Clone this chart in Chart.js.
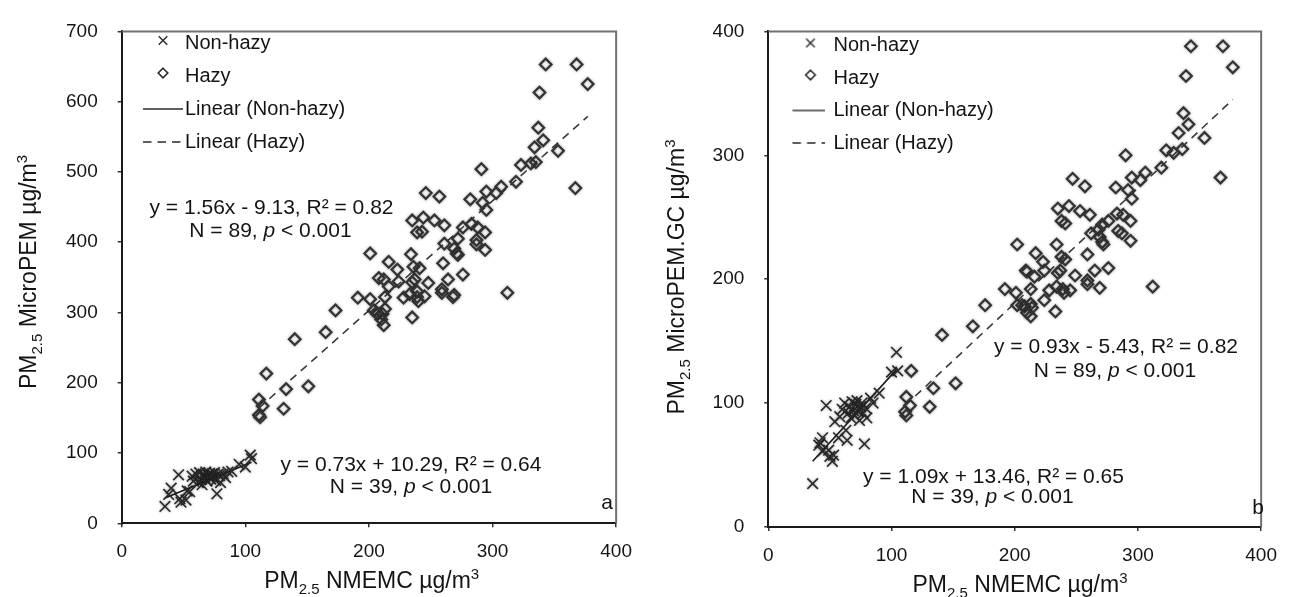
<!DOCTYPE html>
<html>
<head>
<meta charset="utf-8">
<script src="https://cdn.jsdelivr.net/npm/chart.js@4.4.0/dist/chart.umd.min.js"></script>
<style>
html,body{margin:0;padding:0;background:#fff;width:1290px;height:597px;overflow:hidden}
canvas{position:absolute;top:0}
#c1{left:0}
#c2{left:645px}
</style>
</head>
<body>
<canvas id="c1" width="645" height="597"></canvas>
<canvas id="c2" width="645" height="597"></canvas>
<script>
// ---------------- DATA ----------------
const xTickValues = [0, 100, 200, 300, 400];
const yTickValuesA = [0, 100, 200, 300, 400, 500, 600, 700];
const yTickValuesB = [0, 100, 200, 300, 400];

const legendLabels = ['Non-hazy', 'Hazy', 'Linear (Non-hazy)', 'Linear (Hazy)'];

const xTitleSegs = [['PM', ''], ['2.5', 'sub'], [' NMEMC µg/m', ''], ['3', 'sup']];
const yTitleSegsA = [['PM', ''], ['2.5', 'sub'], [' MicroPEM µg/m', ''], ['3', 'sup']];
const yTitleSegsB = [['PM', ''], ['2.5', 'sub'], [' MicroPEM.GC µg/m', ''], ['3', 'sup']];

const annotA = ['y = 1.56x - 9.13, R² = 0.82', 'N = 89, p < 0.001', 'y = 0.73x + 10.29, R² = 0.64', 'N = 39, p < 0.001'];
const annotB = ['y = 0.93x - 5.43, R² = 0.82', 'N = 89, p < 0.001', 'y = 1.09x + 13.46, R² = 0.65', 'N = 39, p < 0.001'];
const panelLetters = ['a', 'b'];

// Panel a: PM2.5 MicroPEM vs NMEMC
const nonHazyA = [[35,24],[38,41],[40,50],[46,69],[47,35],[48,30],[52,33],[53,46],[55,45],[57,67],[58,60],[60,70],[62,58],[63,72],[64,62],[65,55],[66,70],[67,65],[68,73],[69,60],[70,68],[71,71],[72,63],[73,70],[74,66],[75,72],[76,61],[77,42],[78,70],[79,68],[80,58],[82,70],[84,65],[86,73],[89,74],[95,84],[100,80],[104,97],[105,92]];
const hazyA = [[343,653],[368,653],[377,625],[338,613],[337,563],[334,535],[341,545],[353,530],[323,510],[331,512],[335,514],[291,504],[319,486],[367,477],[246,470],[257,465],[282,461],[295,472],[303,470],[307,479],[292,456],[295,446],[235,431],[244,435],[253,431],[261,424],[239,414],[243,415],[283,426],[288,421],[294,414],[287,403],[294,389],[276,421],[272,405],[269,391],[261,398],[271,384],[234,383],[201,384],[216,372],[223,361],[236,365],[241,363],[260,370],[276,354],[264,347],[259,333],[248,342],[208,349],[212,347],[224,344],[237,347],[235,343],[216,337],[191,321],[201,319],[228,321],[233,326],[239,330],[240,316],[245,323],[269,325],[268,322],[204,303],[207,298],[213,305],[211,298],[212,282],[235,293],[312,328],[173,303],[165,272],[140,262],[117,213],[133,191],[151,195],[111,176],[114,167],[131,163],[111,154],[213,322],[259,328],[287,397],[272,382],[210,290],[112,151],[239,322],[206,300]];
const nonHazyFitA = [[35,36],[105,87]];
const hazyFitA = [[111,164],[377,579]];

// Panel b: PM2.5 MicroPEM.GC vs NMEMC
const nonHazyB = [[36,35],[41,66],[42,68],[44,72],[44,61],[47,98],[49,62],[50,57],[52,53],[53,58],[54,85],[57,72],[58,89],[60,95],[62,100],[63,78],[64,70],[65,92],[66,97],[67,88],[68,101],[69,94],[70,90],[71,99],[72,102],[73,93],[74,86],[75,97],[76,100],[77,92],[78,67],[79,96],[80,88],[83,104],[85,100],[90,108],[100,125],[104,141],[105,126]];
const hazyB = [[343,388],[369,388],[377,371],[339,364],[337,334],[341,325],[333,318],[354,314],[323,304],[329,302],[336,305],[290,300],[319,290],[367,282],[247,281],[257,275],[282,274],[295,282],[306,286],[302,280],[292,272],[295,265],[235,257],[244,259],[253,255],[261,252],[238,247],[241,245],[262,237],[271,244],[276,247],[283,253],[288,252],[294,247],[284,239],[287,237],[271,230],[269,234],[272,228],[294,231],[202,228],[234,228],[217,221],[223,214],[238,218],[241,216],[259,220],[209,207],[216,202],[224,207],[237,207],[249,203],[259,199],[265,207],[276,209],[213,192],[192,192],[201,189],[228,191],[234,194],[239,192],[245,191],[259,196],[269,193],[312,194],[202,179],[208,178],[210,173],[213,170],[233,174],[176,179],[206,179],[213,180],[214,177],[166,162],[141,155],[116,126],[134,112],[152,116],[112,105],[115,98],[111,93],[112,90],[131,97],[210,206],[235,205],[240,189],[268,240],[224,183]];
const nonHazyFitB = [[36,53],[105,128]];
const hazyFitB = [[111,98],[377,345]];

// ---------------- HELPERS ----------------
const FONT = '"Liberation Sans", Arial, Helvetica, sans-serif';
const INK = '#141414';
const pts = arr => arr.map(([x, y]) => ({x, y}));

function fontFor(kind, size) {
  if (kind === 'sub' || kind === 'sup') return Math.round(size * 0.65) + 'px ' + FONT;
  if (kind === 'it') return 'italic ' + size + 'px ' + FONT;
  return size + 'px ' + FONT;
}
function drawRich(ctx, segs, x, y, size) {
  const parts = segs.map(([t, k]) => { ctx.font = fontFor(k, size); return {t, k, w: ctx.measureText(t).width}; });
  const total = parts.reduce((s, p) => s + p.w, 0);
  let cx = x - total / 2;
  parts.forEach(p => {
    ctx.font = fontFor(p.k, size);
    const dy = p.k === 'sub' ? size * 0.28 : p.k === 'sup' ? -size * 0.4 : 0;
    ctx.fillText(p.t, cx, y + dy);
    cx += p.w;
  });
}
function annotSegs(text) {
  const i = text.indexOf(', p ');
  if (i < 0) return [[text, '']];
  return [[text.slice(0, i + 2), ''], ['p', 'it'], [text.slice(i + 3), '']];
}

function makeSymbol(kind, w, lineFrom, lineTo, markX) {
  const c = document.createElement('canvas');
  c.width = w; c.height = 18;
  const g = c.getContext('2d');
  g.strokeStyle = '#2a2a2a'; g.lineWidth = 1.4;
  const cy = 9;
  if (kind === 'cross') {
    const r = 4.3, my = cy - 2.5;
    g.beginPath(); g.moveTo(markX - r, my - r); g.lineTo(markX + r, my + r);
    g.moveTo(markX + r, my - r); g.lineTo(markX - r, my + r); g.stroke();
  } else if (kind === 'diamond') {
    const r = 4.8, my = cy - 3;
    g.lineWidth = 1.6;
    g.beginPath(); g.moveTo(markX, my - r); g.lineTo(markX + r, my); g.lineTo(markX, my + r); g.lineTo(markX - r, my); g.closePath(); g.stroke();
  } else {
    if (kind === 'dash') g.setLineDash([8.5, 6]);
    g.beginPath(); g.moveTo(lineFrom, cy); g.lineTo(lineTo, cy); g.stroke();
  }
  return c;
}

const legendPosPlugin = {
  id: 'legendPos',
  afterLayout(chart, args, opts) {
    const L = chart.legend;
    if (!L) return;
    const h = L.height, w = L.width;
    L.left = opts.left; L.top = opts.top; L.right = opts.left + w; L.bottom = opts.top + Math.max(h, 300);
  }
};

const shadowPlugin = {
  id: 'softShadow',
  beforeDatasetDraw(chart, args) {
    if (args.index < 2) { const c = chart.ctx; c.save(); c.shadowColor = 'rgba(0,0,0,0.4)'; c.shadowBlur = 3; }
  },
  afterDatasetDraw(chart, args) {
    if (args.index < 2) chart.ctx.restore();
  }
};

const decorPlugin = {
  id: 'decor',
  afterDraw(chart, args, o) {
    const ctx = chart.ctx, a = chart.chartArea;
    ctx.save();
    ctx.strokeStyle = '#707070'; ctx.lineWidth = 2;
    ctx.beginPath(); ctx.moveTo(a.left, a.top); ctx.lineTo(a.right, a.top); ctx.lineTo(a.right, a.bottom); ctx.stroke();
    ctx.fillStyle = INK;
    ctx.textAlign = 'left'; ctx.textBaseline = 'alphabetic';
    drawRich(ctx, o.xTitle, o.xTitleX, o.xTitleY, 23);
    ctx.save(); ctx.translate(o.yTitleX, o.yTitleY); ctx.rotate(-Math.PI / 2);
    drawRich(ctx, o.yTitle, 0, 0, 23);
    ctx.restore();
    ctx.textBaseline = 'middle';
    o.annot.forEach((t, i) => { const p = o.annotPos[i]; drawRich(ctx, annotSegs(t), p[0], p[1], 21); });
    drawRich(ctx, [[o.letter, '']], o.letterPos[0], o.letterPos[1], 21);
    ctx.restore();
  }
};

function makeChart(id, cfg) {
  const syms = [
    makeSymbol('cross', cfg.symW, cfg.lineFrom, cfg.lineTo, cfg.markX),
    makeSymbol('diamond', cfg.symW, cfg.lineFrom, cfg.lineTo, cfg.markX),
    makeSymbol('solid', cfg.symW, cfg.lineFrom, cfg.lineTo, cfg.markX),
    makeSymbol('dash', cfg.symW, cfg.lineFrom, cfg.lineTo, cfg.markX)
  ];
  const tickFont = {family: FONT, size: 19};
  return new Chart(document.getElementById(id), {
    type: 'scatter',
    data: {
      datasets: [
        {label: legendLabels[0], data: pts(cfg.nonHazy), pointStyle: 'crossRot', pointRadius: 7.5, pointHoverRadius: 7.5,
          pointBorderWidth: 1.6, pointBorderColor: '#2a2a2a', pointBackgroundColor: 'rgba(0,0,0,0)', borderColor: '#2a2a2a', showLine: false},
        {label: legendLabels[1], data: pts(cfg.hazy), pointStyle: 'rectRot', pointRadius: 5.8, pointHoverRadius: 5.8,
          pointBorderWidth: 2.2, pointBorderColor: '#333', pointBackgroundColor: 'rgba(0,0,0,0)', borderColor: '#333', showLine: false},
        {label: legendLabels[2], data: pts(cfg.nonHazyFit), showLine: true, pointRadius: 0, borderColor: '#1a1a1a', borderWidth: 1.6, fill: false},
        {label: legendLabels[3], data: pts(cfg.hazyFit), showLine: true, pointRadius: 0, borderColor: '#3a3a3a', borderWidth: 1.6, borderDash: [8, 6], fill: false}
      ]
    },
    options: {
      responsive: false, animation: false, events: [],
      layout: {padding: {left: 0, top: cfg.padTop, right: cfg.padRight, bottom: 0}},
      scales: {
        x: {
          type: 'linear', min: 0, max: 400,
          afterFit: s => { s.height = cfg.xH; },
          afterBuildTicks: s => { s.ticks = xTickValues.map(v => ({value: v})); },
          ticks: {font: tickFont, color: INK, padding: 13, maxRotation: 0, autoSkip: false},
          grid: {drawOnChartArea: false, tickLength: 4, color: '#333', lineWidth: 1.5},
          border: {color: '#1a1a1a', width: 2}
        },
        y: {
          type: 'linear', min: 0, max: cfg.yMax,
          afterFit: s => { s.width = cfg.yW; },
          afterBuildTicks: s => { s.ticks = cfg.yTicks.map(v => ({value: v})); },
          ticks: {font: tickFont, color: INK, padding: 20, autoSkip: false},
          grid: {drawOnChartArea: false, tickLength: 4, color: '#333', lineWidth: 1.5},
          border: {color: '#1a1a1a', width: 2}
        }
      },
      plugins: {
        tooltip: {enabled: false},
        legend: {
          display: true, position: 'chartArea', align: 'start', fullSize: false,
          labels: {
            usePointStyle: true, pointStyleWidth: 40, padding: cfg.legPad, color: INK,
            font: {family: FONT, size: 20},
            generateLabels: chart => chart.data.datasets.map((ds, i) => ({
              text: ds.label, pointStyle: syms[i], fillStyle: 'rgba(0,0,0,0)', strokeStyle: 'rgba(0,0,0,0)',
              lineWidth: 0, hidden: false, datasetIndex: i, fontColor: INK
            }))
          }
        },
        legendPos: {left: cfg.legLeft, top: cfg.legTop},
        decor: cfg.decor
      }
    },
    plugins: [legendPosPlugin, shadowPlugin, decorPlugin]
  });
}

makeChart('c1', {
  nonHazy: nonHazyA, hazy: hazyA, nonHazyFit: nonHazyFitA, hazyFit: hazyFitA,
  yMax: 700, yTicks: yTickValuesA,
  padTop: 22, padRight: 23.3, yW: 121.7, xH: 73.7,
  legLeft: 122, legTop: 20, legPad: 13,
  symW: 56, lineFrom: 16, lineTo: 56, markX: 36,
  decor: {
    xTitle: xTitleSegs, xTitleX: 371.7, xTitleY: 588,
    yTitle: yTitleSegsA, yTitleX: 36, yTitleY: 272,
    annot: annotA, annotPos: [[271.5, 208.5], [270.5, 231], [411, 465], [411, 487.5]],
    letter: panelLetters[0], letterPos: [607, 503]
  }
});

makeChart('c2', {
  nonHazy: nonHazyB, hazy: hazyB, nonHazyFit: nonHazyFitB, hazyFit: hazyFitB,
  yMax: 400, yTicks: yTickValuesB,
  padTop: 23.7, padRight: 17.5, yW: 123.3, xH: 70,
  legLeft: 126, legTop: 23, legPad: 12.5,
  symW: 42, lineFrom: 10, lineTo: 42, markX: 28,
  decor: {
    xTitle: xTitleSegs, xTitleX: 375, xTitleY: 592,
    yTitle: yTitleSegsB, yTitleX: 39, yTitleY: 277,
    annot: annotB, annotPos: [[471, 347], [470, 371], [348.5, 477.5], [347.5, 497.5]],
    letter: panelLetters[1], letterPos: [613, 508]
  }
});
</script>
</body>
</html>
